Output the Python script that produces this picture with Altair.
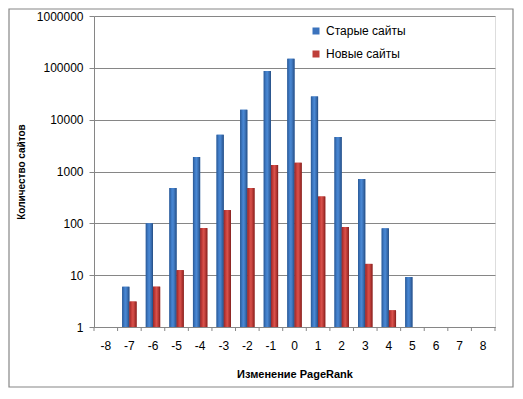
import altair as alt
import pandas as pd

categories = [str(i) for i in range(-8, 9)]
series_names = ["Старые сайты", "Новые сайты"]

old_x = ["-7", "-6", "-5", "-4", "-3", "-2", "-1", "0", "1", "2", "3", "4", "5"]
old_values = [6, 100, 480, 1900, 5100, 15500, 87000, 149000, 28000, 4650, 720, 80, 9.2]

new_x = ["-7", "-6", "-5", "-4", "-3", "-2", "-1", "0", "1", "2", "3", "4"]
new_values = [3.1, 6, 12.5, 81, 180, 480, 1340, 1470, 330, 85, 16.5, 2.1]

y_ticks = [1, 10, 100, 1000, 10000, 100000, 1000000]

rows = []
for c, v in zip(old_x, old_values):
    rows.append({"x": c, "series": series_names[0], "value": v})
for c, v in zip(new_x, new_values):
    rows.append({"x": c, "series": series_names[1], "value": v})
df = pd.DataFrame(rows)
cats_df = pd.DataFrame({"x": categories})
last_df = pd.DataFrame({"x": [categories[-1]]})
frame_df = pd.DataFrame({"k": [0]})

W, H = 401, 311
FONT = "Liberation Sans"
GRAY = "#868686"

x_scale = alt.Scale(domain=categories, paddingInner=0, paddingOuter=0)
x_axis = alt.Axis(
    title="Изменение PageRank", labelAngle=0, ticks=False, tickSize=0,
    labelPadding=13, titlePadding=17, domainColor=GRAY, grid=False,
    labelFontSize=12, labelColor="black", titleFontSize=11, titleFontWeight="bold",
    titleColor="black", labelFont=FONT, titleFont=FONT,
)
y_scale = alt.Scale(type="log", domain=[1, 1000000])
y_axis = alt.Axis(
    title="Количество сайтов", values=y_ticks, format="d", tickSize=5,
    tickColor=GRAY, domainColor=GRAY, gridColor=GRAY, grid=True,
    labelPadding=6, labelFontSize=12, labelColor="black", titlePadding=10,
    titleFontSize=10, titleFontWeight="bold", titleColor="black",
    labelFont=FONT, titleFont=FONT,
)
xoff = alt.XOffset("series:N", scale=alt.Scale(domain=series_names, paddingInner=0, paddingOuter=0.64))

enc = dict(
    x=alt.X("x:N", scale=x_scale, axis=x_axis),
    xOffset=xoff,
    y=alt.Y("value:Q", scale=y_scale, axis=y_axis),
    y2=alt.datum(1),
)

base = alt.Chart(df).mark_bar().encode(
    color=alt.Color(
        "series:N",
        scale=alt.Scale(domain=series_names, range=["#3b73bd", "#be3f3a"]),
        legend=alt.Legend(
            title=None, orient="none", legendX=216, legendY=9, symbolType="square",
            symbolSize=49, labelFontSize=12, labelFont=FONT, labelColor="black",
            rowPadding=11, labelOffset=4, padding=0, symbolStrokeWidth=0,
        ),
    ),
    **enc,
)

blue_grad = alt.LinearGradient(
    gradient="linear", x1=0, x2=1, y1=0, y2=0,
    stops=[
        alt.GradientStop(color="#2a5893", offset=0),
        alt.GradientStop(color="#3f7cc8", offset=0.3),
        alt.GradientStop(color="#4a88d3", offset=0.5),
        alt.GradientStop(color="#3568aa", offset=0.8),
        alt.GradientStop(color="#244b7e", offset=1),
    ],
)
red_grad = alt.LinearGradient(
    gradient="linear", x1=0, x2=1, y1=0, y2=0,
    stops=[
        alt.GradientStop(color="#93272a", offset=0),
        alt.GradientStop(color="#c93f3a", offset=0.3),
        alt.GradientStop(color="#d8524c", offset=0.5),
        alt.GradientStop(color="#b0332f", offset=0.8),
        alt.GradientStop(color="#7d1f1d", offset=1),
    ],
)

old_layer = alt.Chart(df).transform_filter(
    alt.datum.series == series_names[0]
).mark_bar(fill=blue_grad).encode(**enc)
new_layer = alt.Chart(df).transform_filter(
    alt.datum.series == series_names[1]
).mark_bar(fill=red_grad).encode(**enc)

ticks0 = alt.Chart(cats_df).mark_rule(color=GRAY).encode(
    x=alt.X("x:N", scale=x_scale, axis=x_axis, bandPosition=0),
    y=alt.value(H), y2=alt.value(H + 4),
)
ticks1 = alt.Chart(last_df).mark_rule(color=GRAY).encode(
    x=alt.X("x:N", scale=x_scale, axis=x_axis, bandPosition=1),
    y=alt.value(H), y2=alt.value(H + 4),
)

frame = alt.Chart(frame_df).mark_rect(filled=False, stroke=GRAY, strokeWidth=1.2).encode(
    x=alt.value(-85), x2=alt.value(419), y=alt.value(-7), y2=alt.value(371),
)

chart = alt.layer(frame, base, old_layer, new_layer, ticks0, ticks1).properties(
    width=W, height=H,
    autosize=alt.AutoSizeParams(type="none"),
    padding={"left": 86, "top": 8, "right": 20, "bottom": 62},
).configure_view(stroke=None).configure(font=FONT)

chart.save("out.html", embed_options={"renderer": "svg", "actions": False})
